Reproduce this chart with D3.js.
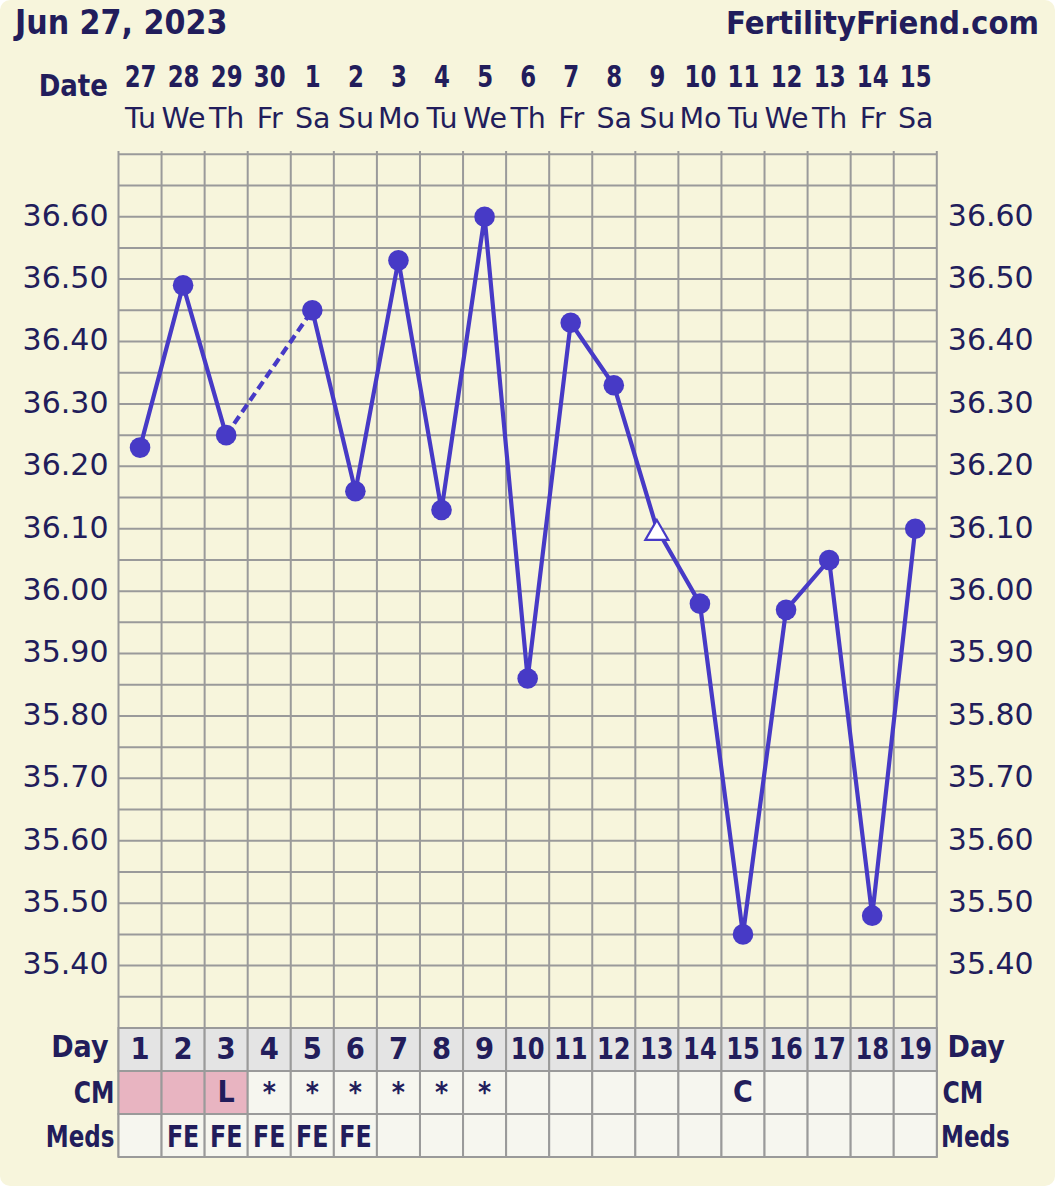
<!DOCTYPE html>
<html>
<head>
<meta charset="utf-8">
<script src="https://cdn.jsdelivr.net/npm/d3@7"></script>
<style>
  html, body { margin: 0; padding: 0; background: #ffffff; }
  svg { display: block; }
</style>
</head>
<body>
<script>
// ---------------- data ----------------
const title = "Jun 27, 2023";
const site = "FertilityFriend.com";
const days = [1,2,3,4,5,6,7,8,9,10,11,12,13,14,15,16,17,18,19];
const dates = ["27","28","29","30","1","2","3","4","5","6","7","8","9","10","11","12","13","14","15"];
const weekdays = ["Tu","We","Th","Fr","Sa","Su","Mo","Tu","We","Th","Fr","Sa","Su","Mo","Tu","We","Th","Fr","Sa"];
const temps = [36.23, 36.49, 36.25, null, 36.45, 36.16, 36.53, 36.13, 36.60, 35.86,
               36.43, 36.33, 36.10, 35.98, 35.45, 35.97, 36.05, 35.48, 36.10];
const openMarkerDays = [13];
const cmValues = ["", "", "L", "*", "*", "*", "*", "*", "*", "", "", "", "", "", "C", "", "", "", ""];
const periodDays = [1, 2, 3];
const meds = ["", "FE", "FE", "FE", "FE", "FE", "", "", "", "", "", "", "", "", "", "", "", "", ""];
const yTicks = [35.40, 35.50, 35.60, 35.70, 35.80, 35.90, 36.00, 36.10, 36.20, 36.30, 36.40, 36.50, 36.60];
const gridValues = d3.range(0, 29).map(i => +(35.30 + i * 0.05).toFixed(2));

// ---------------- style ----------------
const W = 1055, H = 1186;
const BG = "#f7f5dc", TEXT = "#221d5b", LINE = "#473ac6", GRID = "#9a9a9a";
const COND = "'DejaVu Sans Condensed', 'DejaVu Sans', sans-serif";
const REG = "'DejaVu Sans', Verdana, sans-serif";

const svg = d3.select("body").append("svg").attr("width", W).attr("height", H);
svg.append("rect").attr("width", W).attr("height", H).attr("rx", 10).attr("fill", BG);

const x = d3.scaleBand().domain(days).range([118.5, 936.8]).padding(0);
const bw = x.bandwidth();
const cx = d => x(d) + bw / 2;
const y = d3.scaleLinear().domain([35.30, 36.70]).range([1028, 154.3]);
const rowTop = [1028, 1071, 1114];
const rowH = 43;

function label(g, px, py, str, o) {
  const t = g.append("text")
    .attr("transform", `translate(${px},${py}) scale(${o.sx || 1},1)`)
    .attr("text-anchor", o.anchor || "middle")
    .attr("font-family", o.family || COND)
    .attr("font-stretch", o.family === REG ? "normal" : "condensed")
    .attr("font-weight", o.weight || "bold")
    .attr("font-size", o.size)
    .attr("fill", TEXT)
    .text(str);
  return t;
}

// header
label(svg, 15, 34, title, {anchor: "start", size: 33.5});
label(svg, 1039, 34, site, {anchor: "end", size: 32.5});
label(svg, 108, 96, "Date", {anchor: "end", size: 30.5, sx: 0.95});

// date numbers + weekdays (top axes)
const dateAxis = d3.axisTop(d3.scalePoint().domain(days).range([cx(1), cx(19)]))
  .tickSize(0).tickPadding(0).tickFormat((d, i) => dates[i]);
const gDates = svg.append("g").attr("transform", "translate(0,87)").call(dateAxis);
gDates.select(".domain").remove();
gDates.selectAll("text")
  .attr("dy", 0).attr("y", 0)
  .attr("font-family", COND).attr("font-stretch", "condensed").attr("font-weight", "bold")
  .attr("font-size", 31).attr("fill", TEXT).attr("transform", "scale(0.82,1)");

const wdAxis = d3.axisTop(d3.scalePoint().domain(days).range([cx(1), cx(19)]))
  .tickSize(0).tickPadding(0).tickFormat((d, i) => weekdays[i]);
const gWd = svg.append("g").attr("transform", "translate(0,128)").call(wdAxis);
gWd.select(".domain").remove();
gWd.selectAll("text")
  .attr("dy", 0).attr("y", 0)
  .attr("font-family", REG).attr("font-weight", "normal")
  .attr("font-size", 28.5).attr("fill", TEXT);

// grid
const grid = svg.append("g").attr("stroke", GRID).attr("stroke-width", 2);
grid.selectAll("line.h").data(gridValues.filter(v => v > 35.31)).join("line")
  .attr("x1", 118.5).attr("x2", 936.8)
  .attr("y1", d => y(d)).attr("y2", d => y(d));
const vLines = days.map(d => x(d)).concat([x(19) + bw]);
grid.selectAll("line.v").data(vLines).join("line")
  .attr("x1", d => d).attr("x2", d => d)
  .attr("y1", 151).attr("y2", rowTop[2] + rowH);

// y axes
function styleY(g) {
  g.select(".domain").remove();
  g.selectAll("text").attr("font-family", REG).attr("font-size", 30)
    .attr("fill", TEXT).attr("dy", "0.28em");
}
svg.append("g").attr("transform", "translate(118.5,0)")
  .call(d3.axisLeft(y).tickValues(yTicks).tickFormat(d3.format(".2f")).tickSize(0).tickPadding(10))
  .call(styleY);
svg.append("g").attr("transform", "translate(936.8,0)")
  .call(d3.axisRight(y).tickValues(yTicks).tickFormat(d3.format(".2f")).tickSize(0).tickPadding(11))
  .call(styleY);

// table
const table = svg.append("g");
days.forEach((d, i) => {
  table.append("rect").attr("x", x(d)).attr("y", rowTop[0]).attr("width", bw).attr("height", rowH)
    .attr("fill", "#e4e4e4").attr("stroke", GRID).attr("stroke-width", 2);
  table.append("rect").attr("x", x(d)).attr("y", rowTop[1]).attr("width", bw).attr("height", rowH)
    .attr("fill", periodDays.includes(d) ? "#e8b4c1" : "#f6f6ef").attr("stroke", GRID).attr("stroke-width", 2);
  table.append("rect").attr("x", x(d)).attr("y", rowTop[2]).attr("width", bw).attr("height", rowH)
    .attr("fill", "#f6f6ef").attr("stroke", GRID).attr("stroke-width", 2);
  label(table, cx(d), 1059, String(d), {size: 30.5, sx: d >= 10 ? 0.88 : 1});
  if (cmValues[i]) label(table, cx(d), 1102, cmValues[i], {size: cmValues[i] === "*" ? 28 : 30});
  if (meds[i]) label(table, cx(d), 1146.5, meds[i], {size: 31, sx: 0.85});
});
label(svg, 108.5, 1057, "Day", {anchor: "end", size: 30});
label(svg, 114.5, 1102.5, "CM", {anchor: "end", size: 30.5, sx: 0.86});
label(svg, 114.5, 1146.5, "Meds", {anchor: "end", size: 30.5, sx: 0.84});
label(svg, 947.5, 1057, "Day", {anchor: "start", size: 30});
label(svg, 942.5, 1102.5, "CM", {anchor: "start", size: 30.5, sx: 0.86});
label(svg, 941, 1146.5, "Meds", {anchor: "start", size: 30.5, sx: 0.84});

// temperature line
const pts = days.map((d, i) => ({d, v: temps[i]}));
const solid = d3.line().defined(p => p.v != null).x(p => cx(p.d)).y(p => y(p.v));
const known = pts.filter(p => p.v != null);
const gapSegs = [];
for (let i = 1; i < known.length; i++) {
  if (known[i].d - known[i - 1].d > 1) gapSegs.push([known[i - 1], known[i]]);
}
const dashed = d3.line().x(p => cx(p.d)).y(p => y(p.v));
svg.selectAll("path.gap").data(gapSegs).join("path")
  .attr("d", dashed).attr("fill", "none").attr("stroke", LINE)
  .attr("stroke-width", 4.2).attr("stroke-dasharray", "9,5");
svg.append("path").datum(pts).attr("d", solid)
  .attr("fill", "none").attr("stroke", LINE).attr("stroke-width", 4.2).attr("stroke-linejoin", "round");

svg.selectAll("circle.pt").data(known.filter(p => !openMarkerDays.includes(p.d))).join("circle")
  .attr("cx", p => cx(p.d)).attr("cy", p => y(p.v)).attr("r", 10.3).attr("fill", LINE);
const tri = d3.symbol().type(d3.symbolTriangle).size(230);
svg.selectAll("path.tri").data(known.filter(p => openMarkerDays.includes(p.d))).join("path")
  .attr("d", tri).attr("transform", p => `translate(${cx(p.d)},${y(p.v) + 4.5})`)
  .attr("fill", "#ffffff").attr("stroke", LINE).attr("stroke-width", 2.2);
</script>
</body>
</html>
